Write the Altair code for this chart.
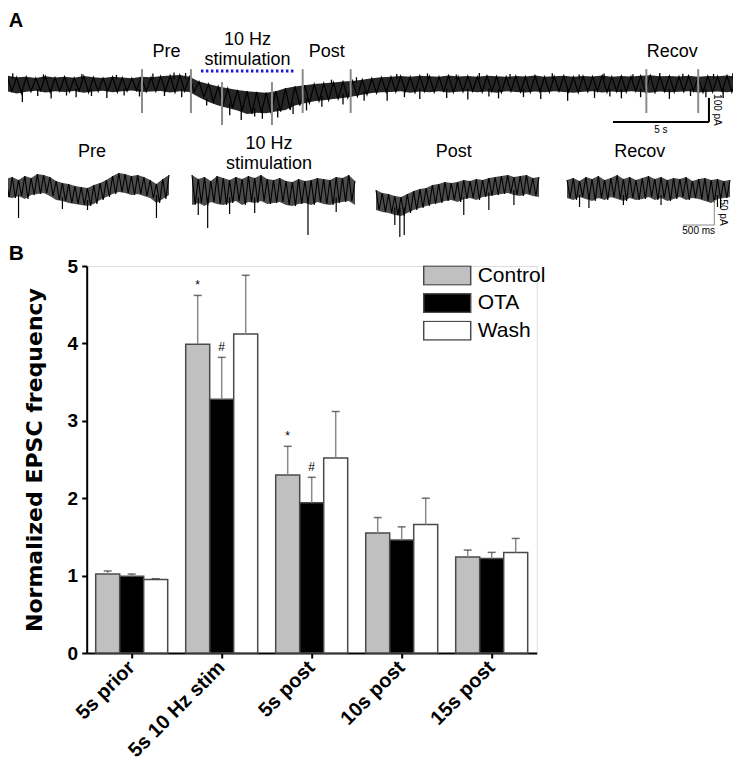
import altair as alt
import pandas as pd

# ---------------- Panel B data ----------------
categories = ["5s prior", "5s 10 Hz stim", "5s post", "10s post", "15s post"]
series = ["Control", "OTA", "Wash"]
control_mean = [1.02, 3.99, 2.30, 1.55, 1.24]
control_sem = [0.04, 0.63, 0.37, 0.20, 0.09]
ota_mean = [0.99, 3.28, 1.94, 1.46, 1.22]
ota_sem = [0.03, 0.54, 0.33, 0.17, 0.08]
wash_mean = [0.95, 4.12, 2.52, 1.66, 1.30]
wash_sem = [0.01, 0.76, 0.60, 0.34, 0.18]
control_sig = ["", "*", "*", "", ""]
ota_sig = ["", "#", "#", "", ""]
wash_sig = ["", "", "", "", ""]

# ---------------- Panel A data ----------------
# main trace, envelope every 0.5 s (pA)
main_t = [i * 0.5 for i in range(77)]
main_upper = [35, 28, 30, 25, 32, 27, 30, 26, 33, 28,
              25, 30, 27, 24, 30, 28, 32, 35, 38, 30,
              10, 0, -10, -18, -25, -30, -33, -36, -30, -18,
              -10, -5, 0, 3, 6, 10, 13, 18, 24, 28,
              30, 33, 30, 34, 32, 30, 35, 31, 33, 30,
              34, 32, 30, 33, 31, 35, 30, 32, 34, 30,
              33, 31, 35, 30, 33, 31, 34, 36, 32, 33,
              31, 34, 30, 33, 32, 35, 31]
main_lower = [-30, -40, -32, -28, -35, -30, -33, -29, -36, -31,
              -28, -34, -30, -27, -33, -31, -29, -35, -30, -33,
              -55, -75, -90, -100, -110, -125, -120, -122, -115, -108,
              -90, -80, -72, -68, -62, -58, -52, -45, -38, -34,
              -33, -30, -36, -31, -34, -30, -35, -32, -30, -34,
              -31, -36, -30, -33, -35, -31, -34, -30, -33, -36,
              -32, -30, -35, -31, -34, -30, -33, -36, -31, -34,
              -32, -30, -35, -33, -31, -34, -30]
# downward spikes (events) below the noise band
spike_t = [0.8, 1.6, 2.3, 3.1, 3.6, 4.4, 5.2, 6.1, 6.9, 8.2, 9.1, 10.4, 11.6, 12.2, 12.9,
           13.3, 14.1, 14.9, 15.6, 16.4, 17.5, 18.6, 19.8, 20.7, 21.5, 22.9, 24.0, 25.1,
           25.6, 26.9, 27.8, 29.2, 30.6, 31.4, 32.0, 33.0, 34.5, 35.6, 36.4, 37.3]
spike_lo = [-75, -50, -60, -48, -55, -50, -58, -48, -52, -50, -55, -90, -130, -150, -135,
            -145, -140, -125, -110, -95, -85, -70, -70, -55, -62, -58, -65, -52,
            -60, -55, -62, -70, -58, -52, -60, -55, -62, -50, -55, -58]
spike_hi = [-20, -20, -20, -20, -20, -20, -20, -20, -20, -20, -20, -60, -80, -100, -100,
            -100, -100, -80, -60, -50, -40, -30, -20, -20, -20, -20, -20, -20,
            -20, -20, -20, -20, -20, -20, -20, -20, -20, -20, -20, -20]
# upward spikes above the noise band
upspike_t = [0.3, 1.9, 3.9, 5.7, 7.6, 8.7, 9.3, 16.9, 18.2, 20.3, 21.9, 23.4, 24.6, 26.2,
             28.4, 29.8, 31.1, 32.6, 34.0, 35.2, 36.8, 37.8]
upspike_hi = [45, 40, 42, 38, 44, 48, 46, 18, 28, 42, 44, 40, 46, 42,
              45, 40, 44, 41, 46, 43, 42, 45]
upspike_lo = [20, 20, 20, 20, 20, 20, 20, 0, 5, 20, 20, 20, 20, 20,
              20, 20, 20, 20, 20, 20, 20, 20]
marker_t = [7.03, 9.58, 11.2, 13.8, 15.4, 17.9, 33.3, 36.0]
marker_top = [62, 62, 8, 8, 62, 62, 62, 62]
marker_bottom = [-121, -121, -171, -171, -121, -121, -121, -121]
stim_start, stim_end, stim_level = 10.1, 14.95, 54
window_names = ["Pre", "Post", "Recov"]
window_start = [7.03, 15.4, 33.3]
window_end = [9.58, 17.9, 36.0]
stim_label_lines = ["10 Hz", "stimulation"]
scalebar_t = [31.56, 36.56]
scalebar_pa = [-158, -58]

# expanded segments (2.6 s each, envelope every 0.1 s, pA)
small_t = [round(i * 0.1, 1) for i in range(27)]
small_names = ["Pre", "10 Hz stimulation", "Post", "Recov"]
small_label_t = [1.37, 1.23, 1.24, 1.16]
small_upper = [
    [22, 26, 20, 28, 24, 32, 30, 26, 18, 14, 12, 8, 6, 4, 10, 14, 20, 28, 34, 32, 28, 30, 26, 20, 12, 22, 30],
    [30, 22, 26, 18, 28, 24, 20, 26, 22, 28, 24, 30, 22, 20, 24, 18, 16, 22, 18, 20, 24, 22, 20, 26, 24, 30, 18],
    [0, -6, -8, -12, -14, -8, -2, 2, 4, 10, 12, 16, 14, 16, 20, 18, 22, 20, 24, 26, 28, 30, 26, 28, 30, 24, 26],
    [20, 24, 18, 26, 22, 28, 20, 24, 30, 22, 26, 20, 24, 28, 22, 26, 20, 24, 22, 26, 18, 22, 24, 20, 22, 18, 20],
]
small_lower = [
    [-14, -16, -12, -18, -10, -8, -6, -12, -20, -22, -26, -28, -30, -32, -28, -20, -14, -8, -4, -6, -10, -8, -12, -16, -26, -18, -10],
    [-30, -26, -32, -24, -28, -30, -26, -22, -30, -24, -26, -22, -28, -26, -24, -30, -32, -28, -26, -30, -24, -28, -30, -26, -24, -22, -30],
    [-40, -44, -46, -50, -52, -46, -40, -36, -32, -28, -26, -22, -20, -24, -18, -16, -20, -14, -12, -10, -8, -6, -10, -12, -8, -12, -14],
    [-16, -20, -14, -18, -22, -16, -20, -14, -18, -22, -16, -20, -18, -14, -20, -16, -22, -18, -14, -20, -16, -18, -22, -26, -18, -16, -14],
]
small_spike_t = [
    [0.2, 0.9, 1.3, 2.4],
    [0.1, 0.25, 0.6, 1.0, 1.85, 2.3],
    [0.3, 0.38, 0.45, 1.4, 1.8, 2.2],
    [0.2, 0.35, 0.9, 1.5, 2.4, 2.45],
]
small_spike_lo = [
    [-56, -38, -40, -56],
    [-50, -76, -48, -46, -90, -44],
    [-70, -94, -90, -50, -40, -30],
    [-34, -36, -30, -30, -34, -36],
]
small_spike_hi = [
    [-10, -15, -20, -10],
    [-15, -15, -15, -15, -15, -15],
    [-35, -35, -35, -15, -5, 0],
    [-10, -10, -10, -10, -10, -10],
]
small_scalebar_t = [1.85, 2.35]
small_scalebar_pa = [-70, -20]

FONT = "Liberation Sans"

# ---------------- Panel B ----------------
rows = []
for s, m, e, g in [("Control", control_mean, control_sem, control_sig),
                   ("OTA", ota_mean, ota_sem, ota_sig),
                   ("Wash", wash_mean, wash_sem, wash_sig)]:
    for c, mv, ev, sg in zip(categories, m, e, g):
        rows.append({"category": c, "series": s, "mean": mv, "hi": mv + ev, "sig": sg})
dfb = pd.DataFrame(rows)

xenc = alt.X("category:N", sort=categories,
             scale=alt.Scale(paddingInner=0.2, paddingOuter=0.1),
             axis=alt.Axis(title=None, labelAngle=-45, labelAlign="right", labelBaseline="middle",
                           labelFontSize=20, labelFontWeight="bold", labelColor="black",
                           labelPadding=6, tickSize=5, tickWidth=2, tickColor="black",
                           domainColor="black", domainWidth=2, labelFont=FONT))
xoff = alt.XOffset("series:N", sort=series, scale=alt.Scale(paddingInner=0, paddingOuter=0))
yvals = [i * 0.5 for i in range(11)]
yenc = alt.Y("mean:Q", scale=alt.Scale(domain=[0, 5], nice=False),
             axis=alt.Axis(values=yvals,
                           labelExpr="datum.value % 1 === 0 ? '' + datum.value : ''",
                           tickSize={"condition": {"test": "datum.value % 1 === 0", "value": 5}, "value": 3},
                           title="Normalized EPSC frequency", titleFontSize=22, titleFontWeight="bold",
                           titleColor="black", titlePadding=21, titleFont="DejaVu Sans",
                           labelFontSize=19, labelFontWeight="bold", labelColor="black", labelFont=FONT,
                           labelPadding=4, tickWidth=2, tickColor="black",
                           domainColor="black", domainWidth=2, grid=False))

bars = alt.Chart(dfb).mark_bar(stroke="#4a4a4a", strokeWidth=1.5).encode(
    x=xenc, xOffset=xoff, y=yenc,
    fill=alt.Fill("series:N", sort=series,
                  scale=alt.Scale(domain=series, range=["#c0c0c0", "#000000", "#ffffff"]),
                  legend=alt.Legend(title=None, orient="none", legendX=336, legendY=-0.5,
                                    symbolType="M-1,-0.4H1V0.4H-1Z", symbolSize=2209,
                                    clipHeight=20, rowPadding=6.6, labelFontSize=21,
                                    labelFont=FONT, labelColor="black", labelOffset=6,
                                    symbolStrokeColor="#4a4a4a", symbolStrokeWidth=1.5,
                                    padding=0)),
)
errs = alt.Chart(dfb).mark_rule(color="#8a8a8a", strokeWidth=1.5).encode(
    x=xenc, xOffset=xoff, y="mean:Q", y2="hi:Q")
caps = alt.Chart(dfb).mark_tick(orient="horizontal", color="#333333", thickness=1.5, size=8).encode(
    x=xenc, xOffset=xoff, y="hi:Q")
sigs = alt.Chart(dfb).mark_text(fontSize=12, baseline="bottom", dy=-3, color="black", font=FONT).encode(
    x=xenc, xOffset=xoff, y="hi:Q", text="sig:N")
panel_b = alt.layer(bars, errs, caps, sigs)

# ---------------- Panel A: main trace ----------------
mx = alt.Scale(domain=[0, 38], range=[-79.7, 649.9], nice=False, zero=False)
my = alt.Scale(domain=[-200, 100], range=[-134, -206], nice=False, zero=False)

df_main = pd.DataFrame({"t": main_t, "up": main_upper, "low": main_lower})
# zig-zag between the read envelopes to show the noisy recording
zig_main = []
for t, u, l in zip(main_t, main_upper, main_lower):
    zig_main.append({"t": t, "v": u})
    zig_main.append({"t": t + 0.25, "v": l})
df_zig_main = pd.DataFrame(zig_main)
df_spk = pd.DataFrame({"t": spike_t, "lo": spike_lo, "hi": spike_hi})
df_upspk = pd.DataFrame({"t": upspike_t, "lo": upspike_lo, "hi": upspike_hi})
df_mark = pd.DataFrame({"t": marker_t, "top": marker_top, "bot": marker_bottom})
df_stim = pd.DataFrame({"t0": [stim_start], "t1": [stim_end], "lvl": [stim_level],
                        "mid": [(stim_start + stim_end) / 2]})
df_win = pd.DataFrame({"name": window_names, "s": window_start, "e": window_end})
df_win["mid"] = (df_win["s"] + df_win["e"]) / 2
df_sb = pd.DataFrame({"t0": [scalebar_t[0]], "t1": [scalebar_t[1]],
                      "p0": [scalebar_pa[0]], "p1": [scalebar_pa[1]],
                      "tm": [(scalebar_t[0] + scalebar_t[1]) / 2],
                      "pm": [(scalebar_pa[0] + scalebar_pa[1]) / 2]})

def X(f):
    return alt.X(f, scale=mx, axis=None)

def Y(f):
    return alt.Y(f, scale=my, axis=None)

main_area = alt.Chart(df_main).mark_area(color="black", opacity=0.85).encode(
    x=X("t:Q"), y=Y("up:Q"), y2="low:Q")
main_zig = alt.Chart(df_zig_main).mark_line(color="black", strokeWidth=1.2).encode(
    x=X("t:Q"), y=Y("v:Q"))
main_spikes = alt.Chart(df_spk).mark_rule(color="black", strokeWidth=1.3).encode(
    x=X("t:Q"), y=Y("lo:Q"), y2="hi:Q")
main_upspikes = alt.Chart(df_upspk).mark_rule(color="black", strokeWidth=1.3).encode(
    x=X("t:Q"), y=Y("lo:Q"), y2="hi:Q")
main_marks = alt.Chart(df_mark).mark_rule(color="#8c8c8c", strokeWidth=2).encode(
    x=X("t:Q"), y=Y("top:Q"), y2="bot:Q")
main_blue = alt.Chart(df_stim).mark_rule(color="#1c1cd0", strokeWidth=3, strokeDash=[2.5, 2.5]).encode(
    x=X("t0:Q"), x2="t1:Q", y=Y("lvl:Q"))
main_sb_h = alt.Chart(df_sb).mark_rule(color="black", strokeWidth=2).encode(
    x=X("t0:Q"), x2="t1:Q", y=Y("p0:Q"))
main_sb_v = alt.Chart(df_sb).mark_rule(color="black", strokeWidth=2).encode(
    x=X("t1:Q"), y=Y("p0:Q"), y2="p1:Q")
main_sb_t = alt.Chart(df_sb).mark_text(fontSize=10, baseline="top", dy=3, font=FONT, color="black").encode(
    x=X("tm:Q"), y=Y("p0:Q"), text=alt.value("5 s"))
main_sb_p = alt.Chart(df_sb).mark_text(fontSize=10, angle=90, baseline="middle", dy=-8, font=FONT, color="black").encode(
    x=X("t1:Q"), y=Y("pm:Q"), text=alt.value("100 pA"))
win_text = alt.Chart(df_win).mark_text(fontSize=18, baseline="middle", font=FONT, color="black").encode(
    x=X("mid:Q"), y=alt.value(-214), text="name:N")
stim_t1 = alt.Chart(df_stim).mark_text(fontSize=18, baseline="middle", font=FONT, color="black").encode(
    x=X("mid:Q"), y=alt.value(-226), text=alt.value(stim_label_lines[0]))
stim_t2 = alt.Chart(df_stim).mark_text(fontSize=18, baseline="middle", font=FONT, color="black").encode(
    x=X("mid:Q"), y=alt.value(-206), text=alt.value(stim_label_lines[1]))
panel_a_main = alt.layer(main_area, main_zig, main_spikes, main_upspikes, main_marks, main_blue,
                         main_sb_h, main_sb_v, main_sb_t, main_sb_p, win_text, stim_t1, stim_t2)

# ---------------- Panel A: expanded segments ----------------
small_ranges = [[-80.7, 82.3], [105.3, 268.3], [289.3, 452.3], [480.3, 643.3]]
sy = alt.Scale(domain=[-100, 50], range=[-26, -101], nice=False, zero=False)

small_layers = []
for i in range(4):
    sx = alt.Scale(domain=[0, 2.6], range=small_ranges[i], nice=False, zero=False)
    zig = []
    for t, u, l in zip(small_t, small_upper[i], small_lower[i]):
        zig.append({"t": t, "v": u})
        if t < 2.55:
            zig.append({"t": t + 0.05, "v": l})
    dz = pd.DataFrame(zig)
    da = pd.DataFrame({"t": small_t, "up": small_upper[i], "low": small_lower[i]})
    ds = pd.DataFrame({"t": small_spike_t[i], "lo": small_spike_lo[i], "hi": small_spike_hi[i]})
    band = alt.Chart(da).mark_area(color="black", opacity=0.7).encode(
        x=alt.X("t:Q", scale=sx, axis=None), y=alt.Y("up:Q", scale=sy, axis=None), y2="low:Q")
    line = alt.Chart(dz).mark_line(color="black", strokeWidth=1.1).encode(
        x=alt.X("t:Q", scale=sx, axis=None), y=alt.Y("v:Q", scale=sy, axis=None))
    spk = alt.Chart(ds).mark_rule(color="black", strokeWidth=1.2).encode(
        x=alt.X("t:Q", scale=sx, axis=None), y=alt.Y("lo:Q", scale=sy, axis=None), y2="hi:Q")
    lab = pd.DataFrame({"t": [small_label_t[i]], "name": [small_names[i]]})
    parts = [band, line, spk]
    if small_names[i] == "10 Hz stimulation":
        parts.append(alt.Chart(lab).mark_text(fontSize=18, baseline="middle", font=FONT, color="black").encode(
            x=alt.X("t:Q", scale=sx, axis=None), y=alt.value(-122), text=alt.value(stim_label_lines[0])))
        parts.append(alt.Chart(lab).mark_text(fontSize=18, baseline="middle", font=FONT, color="black").encode(
            x=alt.X("t:Q", scale=sx, axis=None), y=alt.value(-102), text=alt.value(stim_label_lines[1])))
    else:
        parts.append(alt.Chart(lab).mark_text(fontSize=18, baseline="middle", font=FONT, color="black").encode(
            x=alt.X("t:Q", scale=sx, axis=None), y=alt.value(-114), text="name:N"))
    if i == 3:
        dsb = pd.DataFrame({"t0": [small_scalebar_t[0]], "t1": [small_scalebar_t[1]],
                            "p0": [small_scalebar_pa[0]], "p1": [small_scalebar_pa[1]],
                            "tm": [(small_scalebar_t[0] + small_scalebar_t[1]) / 2],
                            "pm": [(small_scalebar_pa[0] + small_scalebar_pa[1]) / 2]})
        parts.append(alt.Chart(dsb).mark_rule(color="#888888", strokeWidth=1).encode(
            x=alt.X("t0:Q", scale=sx, axis=None), x2="t1:Q", y=alt.Y("p0:Q", scale=sy, axis=None)))
        parts.append(alt.Chart(dsb).mark_rule(color="#888888", strokeWidth=1).encode(
            x=alt.X("t1:Q", scale=sx, axis=None), y=alt.Y("p0:Q", scale=sy, axis=None), y2="p1:Q"))
        parts.append(alt.Chart(dsb).mark_text(fontSize=10, baseline="top", dy=1, font=FONT, color="black").encode(
            x=alt.X("tm:Q", scale=sx, axis=None), y=alt.Y("p0:Q", scale=sy, axis=None), text=alt.value("500 ms")))
        parts.append(alt.Chart(dsb).mark_text(fontSize=10, angle=90, baseline="middle", dy=-9, font=FONT, color="black").encode(
            x=alt.X("t1:Q", scale=sx, axis=None), y=alt.Y("pm:Q", scale=sy, axis=None), text=alt.value("50 pA")))
    small_layers.append(alt.layer(*parts))

# ---------------- Panel letters ----------------
letters = pd.DataFrame({"letter": ["A", "B"]})
letter_a = alt.Chart(letters).transform_filter("datum.letter == 'A'").mark_text(
    fontSize=20, fontWeight="bold", align="left", baseline="alphabetic", font=FONT, color="black").encode(
    x=alt.value(-78), y=alt.value(-239), text="letter:N")
letter_b = alt.Chart(letters).transform_filter("datum.letter == 'B'").mark_text(
    fontSize=21, fontWeight="bold", align="left", baseline="alphabetic", font=FONT, color="black").encode(
    x=alt.value(-78), y=alt.value(-6), text="letter:N")

chart = alt.layer(panel_b, panel_a_main, *small_layers, letter_a, letter_b).resolve_scale(
    x="independent", y="independent"
).properties(
    width=450, height=387,
    autosize=alt.AutoSizeParams(type="none"),
    padding={"left": 78.7, "top": 258, "right": 196.3, "bottom": 115},
).configure_view(stroke=None).configure(font=FONT)

chart.save("out.html", embed_options={"renderer": "svg", "actions": False})
